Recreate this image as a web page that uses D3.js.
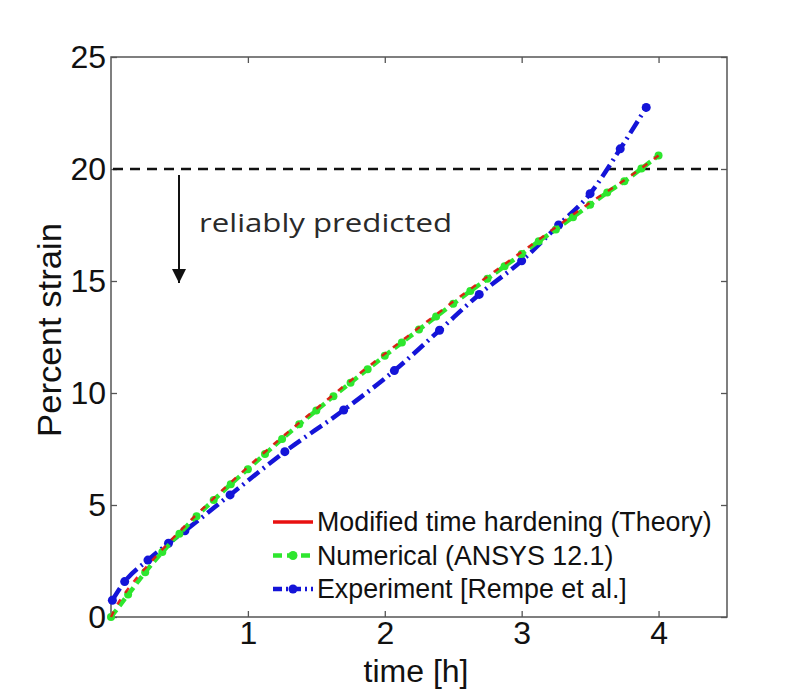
<!DOCTYPE html>
<html>
<head>
<meta charset="utf-8">
<script src="https://cdn.jsdelivr.net/npm/d3@7"></script>
<style>
  body { margin: 0; background: #fff; }
  text { font-family: "Liberation Sans", Arial, sans-serif; fill: #111; }
</style>
</head>
<body>
<svg id="chart" width="787" height="691"></svg>
<script>
// Creep strain vs time

var xTicks = [1, 2, 3, 4];
var yTicks = [0, 5, 10, 15, 20, 25];

var theoryTime   = [0, 0.05, 0.1, 0.2, 0.3, 0.5, 0.75, 1, 1.25, 1.5, 1.75, 2, 2.25, 2.5, 2.75, 3, 3.25, 3.5, 3.75, 4];
var theoryStrain = [0, 0.6, 1.05, 1.83, 2.52, 3.82, 5.3, 6.7, 8.03, 9.3, 10.55, 11.75, 12.92, 14.08, 15.2, 16.3, 17.4, 18.5, 19.5, 20.6];

var numTime   = [0, 0.125, 0.25, 0.375, 0.5, 0.625, 0.75, 0.875, 1, 1.125, 1.25, 1.375, 1.5, 1.625, 1.75, 1.875, 2,
                 2.125, 2.25, 2.375, 2.5, 2.625, 2.75, 2.875, 3, 3.125, 3.25, 3.375, 3.5, 3.625, 3.75, 3.875, 4];
var numStrain = [0, 1.0, 2.0, 2.9, 3.72, 4.5, 5.22, 5.93, 6.6, 7.28, 7.95, 8.6, 9.22, 9.85, 10.46, 11.06, 11.66,
                 12.25, 12.83, 13.41, 13.98, 14.55, 15.1, 15.66, 16.2, 16.78, 17.3, 17.85, 18.4, 18.95, 19.45, 20.02, 20.6];

var expTime   = [0.01, 0.10, 0.27, 0.42, 0.54, 0.87, 1.27, 1.70, 2.07, 2.40, 2.69, 3.0, 3.27, 3.50, 3.72, 3.91];
var expStrain = [0.75, 1.58, 2.54, 3.29, 3.85, 5.45, 7.38, 9.24, 11.0, 12.8, 14.4, 15.9, 17.5, 18.9, 20.9, 22.75];

var limitStrain = 20;
var legendLabels = ["Modified time hardening (Theory)", "Numerical (ANSYS 12.1)", "Experiment [Rempe et al.]"];
var colors = ["#e81010", "#2ee62e", "#1414d8"];

var svg = d3.select("#chart");
svg.append("rect").attr("width", 787).attr("height", 691).attr("fill", "#fff");

var x = d3.scaleLinear().domain([0, 4.5]).range([111, 727]);
var y = d3.scaleLinear().domain([0, 25]).range([617, 57]);

function zip (a, b) { return a.map((d, i) => [d, b[i]]); }

var line = d3.line()
        .x(d => x(d[0]))
        .y(d => y(d[1]))
        .curve(d3.curveMonotoneX);

// axes box with ticks on all sides
var axisColor = "#555";
svg.append("rect")
        .attr("x", x(0)).attr("y", y(25))
        .attr("width", x(4.5) - x(0)).attr("height", y(0) - y(25))
        .attr("fill", "none").attr("stroke", axisColor).attr("stroke-width", 1.5);

var axisBottomG = svg.append("g").attr("transform", "translate(0," + y(0) + ")")
        .call(d3.axisBottom(x).tickValues(xTicks).tickSize(-6).tickPadding(4).tickFormat(d3.format("d")));
var axisTopG = svg.append("g").attr("transform", "translate(0," + y(25) + ")")
        .call(d3.axisTop(x).tickValues(xTicks).tickSize(-6).tickFormat(""));
var axisLeftG = svg.append("g").attr("transform", "translate(" + x(0) + ",0)")
        .call(d3.axisLeft(y).tickValues(yTicks).tickSize(-6).tickPadding(5).tickFormat(d3.format("d")));
var axisRightG = svg.append("g").attr("transform", "translate(" + x(4.5) + ",0)")
        .call(d3.axisRight(y).tickValues(yTicks).tickSize(-6).tickFormat(""));

[axisBottomG, axisTopG, axisLeftG, axisRightG].forEach(g => {
    g.select(".domain").remove();
    g.selectAll("line").attr("stroke", axisColor).attr("stroke-width", 1.3);
    g.selectAll("text").style("font-size", "32px").attr("fill", "#111");
});
axisBottomG.selectAll("text").attr("dy", "0.71em");

svg.append("text")
        .attr("x", (x(0) + x(4.5)) / 2 - 3).attr("y", 682)
        .attr("text-anchor", "middle")
        .attr("textLength", 105).attr("lengthAdjust", "spacingAndGlyphs")
        .style("font-size", "31px")
        .text("time [h]");

svg.append("text")
        .attr("transform", "translate(61,330) rotate(-90)")
        .attr("text-anchor", "middle")
        .attr("textLength", 214).attr("lengthAdjust", "spacingAndGlyphs")
        .style("font-size", "33px")
        .text("Percent strain");

// 20% limit and annotation
svg.append("line")
        .attr("x1", x(0) + 2).attr("x2", x(4.5) - 2)
        .attr("y1", y(limitStrain)).attr("y2", y(limitStrain))
        .attr("stroke", "#111").attr("stroke-width", 2.5)
        .attr("stroke-dasharray", "10,7");

svg.append("defs").append("marker")
        .attr("id", "head").attr("viewBox", "0 0 10 10")
        .attr("refX", 10).attr("refY", 5)
        .attr("markerWidth", 14).attr("markerHeight", 14)
        .attr("markerUnits", "userSpaceOnUse")
        .attr("orient", "auto")
    .append("path").attr("d", "M0,0 L10,5 L0,10 Z").attr("fill", "#111");

svg.append("line")
        .attr("x1", 179).attr("x2", 179)
        .attr("y1", y(limitStrain) + 6).attr("y2", 283)
        .attr("stroke", "#111").attr("stroke-width", 2)
        .attr("marker-end", "url(#head)");

svg.append("text")
        .attr("x", 199).attr("y", 232)
        .attr("textLength", 253).attr("lengthAdjust", "spacingAndGlyphs")
        .style("font-family", "'Open Sans', Lato, sans-serif")
        .style("font-size", "26px")
        .style("fill", "#2a2a2a")
        .text("reliably predicted");

// series
var theory = zip(theoryTime, theoryStrain);
var numerical = zip(numTime, numStrain);
var experiment = zip(expTime, expStrain);

svg.append("path").datum(experiment)
        .attr("d", line).attr("fill", "none")
        .attr("stroke", colors[2]).attr("stroke-width", 4.5)
        .attr("stroke-dasharray", "14,5,2,5");
svg.append("g").selectAll("circle").data(experiment).join("circle")
        .attr("cx", d => x(d[0])).attr("cy", d => y(d[1]))
        .attr("r", 4.5).attr("fill", colors[2]);

svg.append("path").datum(numerical)
        .attr("d", line).attr("fill", "none")
        .attr("stroke", colors[1]).attr("stroke-width", 4.5)
        .attr("stroke-dasharray", "9,5");
svg.append("g").selectAll("circle").data(numerical).join("circle")
        .attr("cx", d => x(d[0])).attr("cy", d => y(d[1]))
        .attr("r", 4).attr("fill", colors[1]);

svg.append("path").datum(theory)
        .attr("d", line).attr("fill", "none")
        .attr("stroke", colors[0]).attr("stroke-width", 2.5)
        .attr("stroke-dasharray", "6,8")
        .attr("opacity", 0.9);

// legend
var legend = svg.append("g").attr("transform", "translate(273,522)");
var rows = legend.selectAll("g").data(legendLabels).join("g")
        .attr("transform", (d, i) => "translate(0," + (i * 33.5) + ")");

rows.append("line")
        .attr("x1", 0).attr("x2", 40).attr("y1", 0).attr("y2", 0)
        .attr("stroke", (d, i) => colors[i])
        .attr("stroke-width", (d, i) => i == 0 ? 3.5 : 4.5)
        .attr("stroke-dasharray", (d, i) => i == 0 ? null : (i == 1 ? "9,5" : "9,4,2,4"));
rows.filter((d, i) => i > 0).append("circle")
        .attr("cx", 20).attr("cy", 0).attr("r", 4.5)
        .attr("fill", (d, i) => colors[i + 1]);
rows.append("text")
        .attr("x", 44).attr("y", 0).attr("dy", "0.35em")
        .style("font-size", "26.8px")
        .text(d => d);
</script>
</body>
</html>
